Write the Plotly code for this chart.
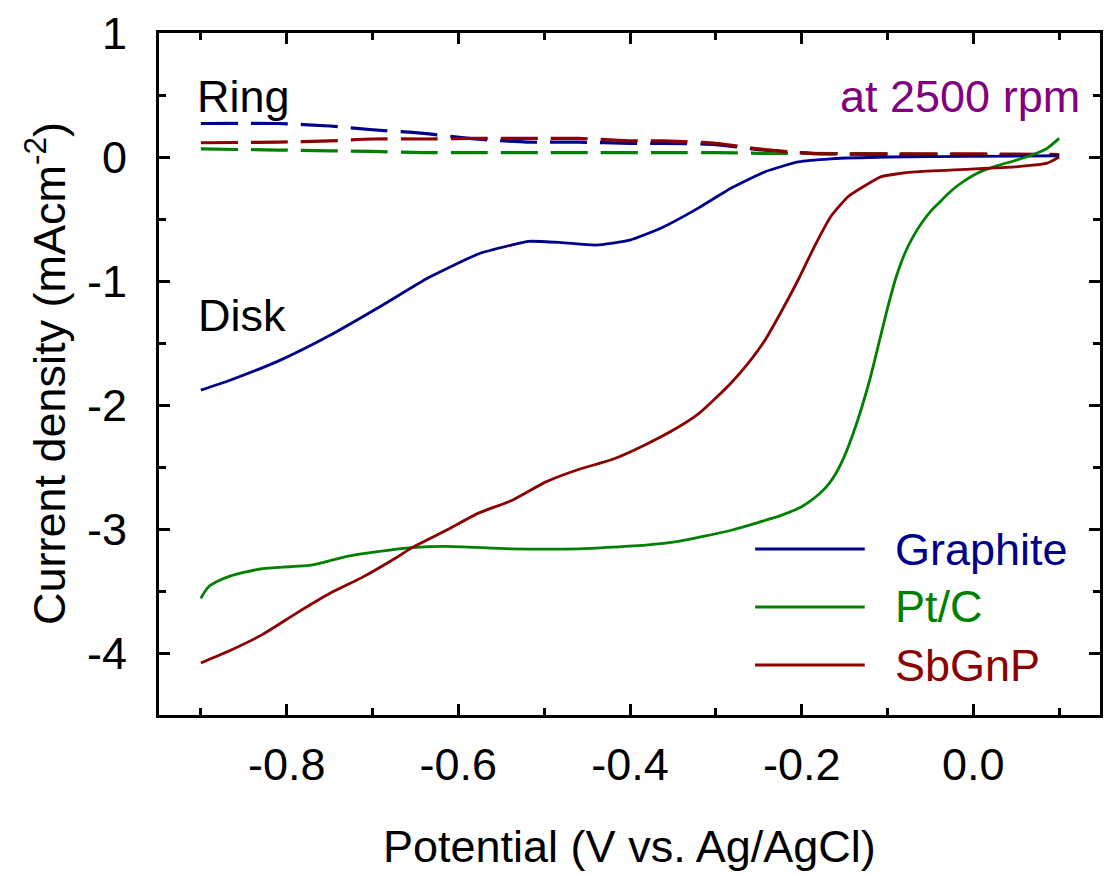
import plotly.graph_objects as go

# ---------------- data ----------------
# Disk currents
graphite_x = [-0.90, -0.866, -0.808, -0.75, -0.692, -0.634, -0.576, -0.538, -0.518, -0.48, -0.44,
              -0.40, -0.363, -0.32, -0.282, -0.243, -0.204, -0.166, -0.10, 0.0, 0.10]
graphite_y = [-1.88, -1.80, -1.64, -1.44, -1.21, -0.97, -0.78, -0.71, -0.68, -0.69, -0.71,
              -0.67, -0.57, -0.41, -0.25, -0.12, -0.04, -0.015, 0.0, 0.005, 0.01]

ptc_x = [-0.90, -0.895, -0.89, -0.88, -0.866, -0.85, -0.828, -0.770, -0.730, -0.692, -0.654,
         -0.614, -0.538, -0.460, -0.382, -0.344, -0.282, -0.224, -0.200, -0.189, -0.18, -0.17,
         -0.16, -0.15, -0.14, -0.13, -0.12, -0.11, -0.10, -0.09, -0.08, -0.07, -0.06,
         -0.05, -0.04, -0.03, -0.02, -0.01, 0.008, 0.028, 0.048, 0.066, 0.086, 0.10]
ptc_y = [-3.56, -3.50, -3.46, -3.42, -3.38, -3.35, -3.32, -3.29, -3.22, -3.18, -3.15,
         -3.14, -3.16, -3.16, -3.13, -3.10, -3.01, -2.89, -2.82, -2.77, -2.72, -2.65,
         -2.55, -2.41, -2.23, -2.02, -1.78, -1.50, -1.22, -0.97, -0.78, -0.64, -0.53,
         -0.44, -0.37, -0.30, -0.24, -0.19, -0.12, -0.07, -0.03, 0.01, 0.07, 0.15]

sbgnp_x = [-0.90, -0.866, -0.828, -0.789, -0.750, -0.712, -0.672, -0.654, -0.614, -0.576, -0.538,
           -0.498, -0.460, -0.421, -0.382, -0.344, -0.320, -0.301, -0.282, -0.262, -0.243,
           -0.224, -0.204, -0.185, -0.166, -0.146, -0.126, -0.108, -0.088, -0.068, -0.010,
           0.048, 0.086, 0.10]
sbgnp_y = [-4.08, -3.98, -3.85, -3.68, -3.52, -3.39, -3.23, -3.15, -3.01, -2.87, -2.77,
           -2.62, -2.52, -2.44, -2.32, -2.18, -2.07, -1.95, -1.82, -1.66, -1.48,
           -1.25, -0.99, -0.72, -0.48, -0.32, -0.23, -0.16, -0.135, -0.12, -0.10,
           -0.08, -0.05, 0.0]

# Ring currents
ring_x = [-0.90, -0.81, -0.75, -0.70, -0.64, -0.58, -0.52, -0.46, -0.40, -0.36, -0.30,
          -0.25, -0.19, -0.10, 0.0, 0.10]
graphite_ring = [0.27, 0.27, 0.25, 0.22, 0.19, 0.145, 0.12, 0.12, 0.11, 0.11, 0.10,
                 0.06, 0.03, 0.02, 0.02, 0.02]
ptc_ring = [0.065, 0.056, 0.05, 0.045, 0.035, 0.035, 0.035, 0.035, 0.035, 0.035, 0.035,
            0.03, 0.03, 0.025, 0.02, 0.02]
sbgnp_ring = [0.115, 0.12, 0.13, 0.145, 0.145, 0.15, 0.15, 0.15, 0.13, 0.13, 0.11,
              0.065, 0.03, 0.025, 0.025, 0.02]

series_names = ["Graphite", "Pt/C", "SbGnP"]
series_colors = ["#00008B", "#008000", "#8B0000"]

x_ticks = [-0.8, -0.6, -0.4, -0.2, 0.0]
x_tick_text = ["-0.8", "-0.6", "-0.4", "-0.2", "0.0"]
y_ticks = [1, 0, -1, -2, -3, -4]
y_tick_text = ["1", "0", "-1", "-2", "-3", "-4"]

# ---------------- figure ----------------
FONT = "Arial, 'Liberation Sans', sans-serif"
fig = go.Figure()

disk = [(graphite_x, graphite_y), (ptc_x, ptc_y), (sbgnp_x, sbgnp_y)]
rings = [graphite_ring, ptc_ring, sbgnp_ring]

for ring, col in zip(rings, series_colors):
    fig.add_trace(go.Scatter(x=ring_x, y=ring, mode="lines", showlegend=False,
                             line=dict(color=col, width=3.2, dash="37px,13px",
                                       shape="spline", smoothing=0.6)))
for (xs, ys), name, col in zip(disk, series_names, series_colors):
    fig.add_trace(go.Scatter(x=xs, y=ys, mode="lines", name=name, showlegend=False,
                             line=dict(color=col, width=2.8, shape="spline", smoothing=0.5)))

axis_common = dict(
    showline=True, linecolor="black", linewidth=3, mirror="ticks",
    ticks="inside", ticklen=11, tickwidth=3, tickcolor="black",
    showgrid=False, zeroline=False,
    tickfont=dict(family=FONT, size=45, color="black"),
)

fig.update_xaxes(range=[-0.9488, 0.1476], tickvals=x_ticks, ticktext=x_tick_text,
                 ticklabelstandoff=8,
                 minor=dict(ticks="inside", ticklen=7, tickwidth=3, tickcolor="black",
                            dtick=0.1, tick0=-0.9, showgrid=False),
                 **axis_common)
fig.update_yaxes(range=[-4.5, 1.0], tickvals=y_ticks, ticktext=y_tick_text,
                 ticklabelstandoff=20,
                 minor=dict(ticks="inside", ticklen=7, tickwidth=3, tickcolor="black",
                            dtick=0.5, tick0=0, showgrid=False),
                 **axis_common)

annotations = [
    dict(text="Potential (V vs. Ag/AgCl)", xref="paper", yref="paper", x=0.5, y=-0.1935,
         xanchor="center", yanchor="middle", showarrow=False,
         font=dict(family=FONT, size=45, color="black")),
    dict(text="Current density (mAcm<sup>-2</sup>)", xref="paper", yref="paper", x=-0.12, y=0.5,
         xanchor="center", yanchor="middle", textangle=-90, showarrow=False,
         font=dict(family=FONT, size=45, color="black")),
    dict(text="Ring", xref="paper", yref="paper", x=0.038, y=0.9064,
         xanchor="left", yanchor="middle", showarrow=False,
         font=dict(family=FONT, size=45, color="black")),
    dict(text="Disk", xref="paper", yref="paper", x=0.0395, y=0.5858,
         xanchor="left", yanchor="middle", showarrow=False,
         font=dict(family=FONT, size=45, color="black")),
    dict(text="at 2500 rpm", xref="paper", yref="paper", x=0.981, y=0.9064,
         xanchor="right", yanchor="middle", showarrow=False,
         font=dict(family=FONT, size=45, color="#800080")),
]

# manual legend (long line samples with coloured labels)
shapes = []
legend_y = [0.2434, 0.1584, 0.0733]
for name, col, ly in zip(series_names, series_colors, legend_y):
    shapes.append(dict(type="line", xref="paper", yref="paper", x0=0.6335, x1=0.7500,
                       y0=ly, y1=ly, line=dict(color=col, width=3)))
    annotations.append(dict(text=name, xref="paper", yref="paper", x=0.7797, y=ly,
                            xanchor="left", yanchor="middle", showarrow=False,
                            font=dict(family=FONT, size=45, color=col)))

fig.update_layout(
    width=1105, height=876,
    margin=dict(l=159, r=2, t=33, b=161),
    paper_bgcolor="white", plot_bgcolor="white",
    annotations=annotations, shapes=shapes,
    showlegend=False,
)

fig.write_html("out.html")
